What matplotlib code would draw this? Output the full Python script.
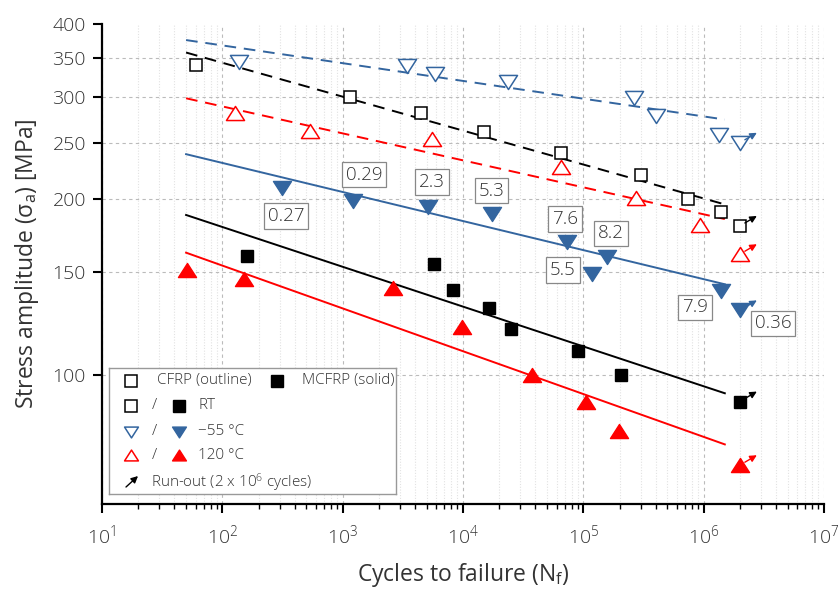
import numpy as np
import matplotlib
matplotlib.use("Agg")
import matplotlib.pyplot as plt
from matplotlib.path import Path
from matplotlib.ticker import FixedLocator, FixedFormatter, NullLocator, NullFormatter, LogLocator, LogFormatterMathtext
from matplotlib.transforms import offset_copy

plt.rcParams["font.family"] = ["Open Sans", "DejaVu Sans"]
plt.rcParams["font.weight"] = "light"
plt.rcParams["mathtext.fontset"] = "custom"
plt.rcParams["mathtext.rm"] = "Open Sans:light"
plt.rcParams["mathtext.it"] = "Open Sans:italic:light"
plt.rcParams["mathtext.default"] = "regular"

txt = "#333333"
blue = "#33659f"
red = "#ff0000"

# CFRP (outline markers)
cfrp_rt_n = [60, 1150, 4500, 15000, 65000, 300000, 740000, 1.4e6, 2e6]
cfrp_rt_s = [340, 300, 281, 261, 240, 220, 200, 190, 180]
cfrp_m55_n = [138, 3400, 5900, 23500, 266000, 400000, 1.33e6, 2e6]
cfrp_m55_s = [344, 338, 328, 318, 298, 278, 258, 250]
cfrp_120_n = [128, 535, 5500, 65000, 273000, 935000, 2e6]
cfrp_120_s = [281, 262, 254, 227, 201, 181, 161]

# MCFRP (solid markers)
mcfrp_rt_n = [160, 5800, 8300, 16500, 25000, 91000, 205000, 2e6]
mcfrp_rt_s = [160, 155, 140, 130, 120, 110, 100, 90]
mcfrp_m55_n = [316, 1230, 5100, 17300, 73000, 118000, 158000, 1.39e6, 2e6]
mcfrp_m55_s = [209, 199, 194, 189, 169, 149, 159, 139, 129]
mcfrp_m55_lbl = ["0.27", "0.29", "2.3", "5.3", "7.6", "5.5", "8.2", "7.9", "0.36"]
mcfrp_120_n = [51, 151, 2600, 9800, 37800, 105000, 199000, 2e6]
mcfrp_120_s = [151, 146, 141, 121, 100, 90, 80, 70]

# fitted S-N lines (end points)
fit_n = [50, 1.5e6]
fit_cfrp_m55 = [375, 274]
fit_cfrp_rt = [357, 196]
fit_cfrp_120 = [298, 185]
fit_mcfrp_m55 = [239, 143]
fit_mcfrp_rt = [188, 93]
fit_mcfrp_120 = [162, 76]

runout_n = 2e6

# label offsets in pixels (for the -55 MCFRP numbers)
lbl_off = [(4, -28), (11, 26), (4, 25), (0, 23), (-2, 23), (-29, 4), (4, 24), (-26, -16), (33, -13)]

tri_down = Path([(0, -0.78), (-1, 0.78), (1, 0.78), (0, -0.78)], closed=True)
tri_up = Path([(0, 0.78), (-1, -0.78), (1, -0.78), (0, 0.78)], closed=True)

fig = plt.figure(figsize=(8.4, 5.9), dpi=100)
ax = fig.add_axes([0.1214, 0.1453, 0.8595, 0.8145])
ax.set_xscale("log")
ax.set_yscale("log")
ax.set_xlim(10, 1e7)
ax.set_ylim(60, 400)

# grid
ax.set_axisbelow(True)
ax.grid(True, which="major", color="#bbbbbb", ls=(0, (3, 3)), lw=0.8)
ax.grid(True, which="minor", axis="x", color="#e2e2e2", ls=(0, (1, 1.5)), lw=0.8)

# fit lines
ax.plot(fit_n, fit_cfrp_m55, color=blue, ls=(0, (6, 4)), lw=1.4)
ax.plot(fit_n, fit_cfrp_rt, color="black", ls=(0, (6, 4)), lw=1.4)
ax.plot(fit_n, fit_cfrp_120, color=red, ls=(0, (6, 4)), lw=1.4)
ax.plot(fit_n, fit_mcfrp_m55, color=blue, lw=1.4)
ax.plot(fit_n, fit_mcfrp_rt, color="black", lw=1.4)
ax.plot(fit_n, fit_mcfrp_120, color=red, lw=1.4)

# data points
ax.plot(cfrp_rt_n, cfrp_rt_s, ls="none", marker="s", ms=9, mfc="white", mec="black", mew=1.1)
ax.plot(cfrp_m55_n, cfrp_m55_s, ls="none", marker=tri_down, ms=13, mfc="white", mec=blue, mew=1.1)
ax.plot(cfrp_120_n, cfrp_120_s, ls="none", marker=tri_up, ms=13, mfc="white", mec=red, mew=1.1)
ax.plot(mcfrp_rt_n, mcfrp_rt_s, ls="none", marker="s", ms=9, mfc="black", mec="black")
ax.plot(mcfrp_m55_n, mcfrp_m55_s, ls="none", marker=tri_down, ms=13, mfc=blue, mec=blue)
ax.plot(mcfrp_120_n, mcfrp_120_s, ls="none", marker=tri_up, ms=13, mfc=red, mec=red)

# run-out arrows
runouts = [(cfrp_rt_s[-1], "black"), (cfrp_m55_s[-1], blue), (cfrp_120_s[-1], red),
           (mcfrp_rt_s[-1], "black"), (mcfrp_m55_s[-1], blue), (mcfrp_120_s[-1], red)]
for s, c in runouts:
    ax.annotate("", xy=(runout_n, s), xytext=(runout_n, s),
                xycoords=offset_copy(ax.transData, fig=fig, x=17, y=10, units="dots"),
                textcoords=offset_copy(ax.transData, fig=fig, x=5, y=3, units="dots"),
                arrowprops=dict(arrowstyle="-|>", color=c, lw=1, mutation_scale=10,
                                shrinkA=0, shrinkB=0))

# boxed numbers
for n, s, t, (dx, dy) in zip(mcfrp_m55_n, mcfrp_m55_s, mcfrp_m55_lbl, lbl_off):
    ax.annotate(t, xy=(n, s), xytext=(dx, dy), textcoords="offset pixels",
                ha="center", va="center", fontsize=13.5, color=txt,
                bbox=dict(boxstyle="square,pad=0.2", fc="white", ec="#888888", lw=0.9))

# axes styling
for side in ["top", "right"]:
    ax.spines[side].set_visible(False)
for side in ["left", "bottom"]:
    ax.spines[side].set_linewidth(1.6)
yt = [100, 150, 200, 250, 300, 350, 400]
ax.yaxis.set_major_locator(FixedLocator(yt))
ax.yaxis.set_major_formatter(FixedFormatter([str(v) for v in yt]))
ax.yaxis.set_minor_locator(NullLocator())
ax.xaxis.set_major_locator(LogLocator(base=10, numticks=10))
ax.xaxis.set_major_formatter(LogFormatterMathtext())
ax.xaxis.set_minor_locator(LogLocator(base=10, subs=np.arange(2, 10), numticks=20))
ax.xaxis.set_minor_formatter(NullFormatter())
ax.tick_params(which="major", length=6.5, width=1.5, labelsize=14, labelcolor=txt, pad=5)
ax.tick_params(axis="x", which="major", pad=7)
ax.tick_params(which="minor", length=3.5, width=1.0)
ax.yaxis.get_gridlines()[-1].set_visible(False)

ax.set_xlabel("Cycles to failure (N$_\\mathregular{f}$)", fontsize=16.5, color=txt, labelpad=10)
ax.set_ylabel("Stress amplitude (σ$_\\mathregular{a}$) [MPa]", fontsize=16.5, color=txt, labelpad=8)

# custom legend box
lg = ax.inset_axes([0.0097, 0.0214, 0.398, 0.2615])
lg.set_xlim(0, 287)
lg.set_ylim(126, 0)
lg.set_xticks([])
lg.set_yticks([])
for sp in lg.spines.values():
    sp.set_color("#999999")
    sp.set_linewidth(1.0)
lg.patch.set_facecolor("white")

row_y = [12.7, 37.7, 63.4, 87.4, 114.4]
lfs = 11
lg.plot([22], [row_y[0]], marker="s", ms=8, mfc="white", mec="black", mew=1.1)
lg.text(48, row_y[0], "CFRP (outline)", va="center", fontsize=lfs, color=txt)
lg.plot([168], [row_y[0]], marker="s", ms=8, mfc="black", mec="black")
lg.text(193, row_y[0], "MCFRP (solid)", va="center", fontsize=lfs, color=txt)

legend_rows = [("s", "black", "RT", 8), (tri_down, blue, "−55 °C", 10), (tri_up, red, "120 °C", 10)]
for (m, c, name, ms), y in zip(legend_rows, row_y[1:4]):
    lg.plot([22], [y], marker=m, ms=ms, mfc="white", mec=c, mew=1.1)
    lg.text(45, y, "/", va="center", ha="center", fontsize=lfs, color=txt)
    lg.plot([70], [y], marker=m, ms=ms, mfc=c, mec=c)
    lg.text(89, y, name, va="center", fontsize=lfs, color=txt)

lg.annotate("", xy=(29, 108), xytext=(17, 119),
            arrowprops=dict(arrowstyle="-|>", color="black", lw=1, mutation_scale=10,
                            shrinkA=0, shrinkB=0))
lg.text(42, row_y[4], "Run-out (2 x 10$^\\mathregular{6}$ cycles)", va="center", fontsize=lfs, color=txt)

fig.savefig("out.png", dpi=100)
